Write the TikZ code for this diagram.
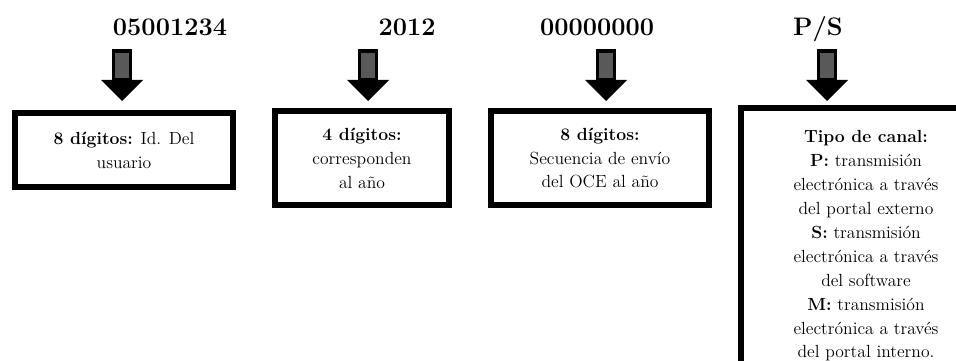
\documentclass[tikz,border=0pt]{standalone}
\usepackage{tikz}
\usepackage{amsmath}

\tikzset{
	caja/.style={draw, line width=0.15cm, align=center, font=\fontsize{12.5}{17}\selectfont},
	cifra/.style={anchor=base, font=\fontsize{18}{20}\selectfont\bfseries}
}

\begin{document}
\begin{tikzpicture}[x=0.025cm, y=-0.025cm]
			\useasboundingbox (0,0) rectangle (956,361);
			\clip (0,0) rectangle (956,361);

			\node[cifra] (usuario) at (170,36) {05001234};
			\node[cifra] (anio) at (407,36) {2012};
			\node[cifra] (secuencia) at (597,36) {00000000};
			\node[cifra] (canal) at (818,36) {P/S};

			\node[caja, minimum width=5.45cm, minimum height=1.85cm] (cajausuario) at (124,150)
				{\textbf{8 dígitos:} Id. Del\\usuario};
			\node[caja, minimum width=4.35cm, minimum height=2.35cm] (cajaanio) at (362,158)
				{\textbf{4 dígitos:}\\corresponden\\al año};
			\node[caja, minimum width=5.45cm, minimum height=2.35cm] (cajasecuencia) at (600,158)
				{\textbf{8 dígitos:}\\Secuencia de envío\\del OCE al año};
			\node[caja, minimum width=6.25cm, minimum height=6.9cm] (cajacanal) at (866,246)
				{\textbf{Tipo de canal:}\\\textbf{P:} transmisión\\electrónica a través\\del portal externo\\
				\textbf{S:} transmisión\\electrónica a través\\del software\\
				\textbf{M:} transmisión\\electrónica a través\\del portal interno.};

			\foreach \x in {122,368,606,827}
			{
				\draw[fill=black!65, line width=0.08cm] (\x-8.5,51) rectangle (\x+8.5,80);
				\fill (\x-21,80) -- (\x+21,80) -- (\x,101) -- cycle;
			}
		\end{tikzpicture}
\end{document}
